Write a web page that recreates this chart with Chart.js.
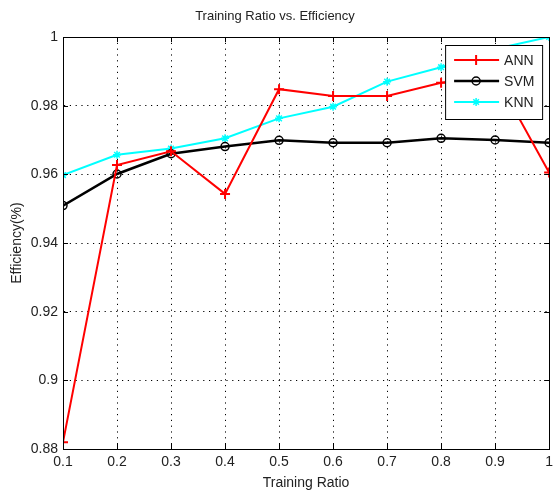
<!DOCTYPE html>
<html>
<head>
<meta charset="utf-8">
<script src="https://cdn.jsdelivr.net/npm/chart.js@4/dist/chart.umd.min.js"></script>
<style>
  html, body { margin: 0; padding: 0; background: #fff; }
  #wrap { width: 558px; height: 490px; }
</style>
</head>
<body>
<div id="wrap"><canvas id="effChart" width="558" height="490"></canvas></div>
<script>
// values
const trainingRatio = [0.1, 0.2, 0.3, 0.4, 0.5, 0.6, 0.7, 0.8, 0.9, 1.0];
const annEff = [0.882, 0.9627, 0.9667, 0.9543, 0.9848, 0.9828, 0.9828, 0.9867, 0.989, 0.9605];
const svmEff = [0.9509, 0.9601, 0.9660, 0.9681, 0.9699, 0.9692, 0.9692, 0.9705, 0.9700, 0.9692];
const knnEff = [0.9598, 0.9657, 0.9675, 0.9705, 0.9763, 0.9797, 0.9870, 0.9912, 0.9965, 1.0];

const xTickValues = [0.1, 0.2, 0.3, 0.4, 0.5, 0.6, 0.7, 0.8, 0.9, 1.0];
const xTickLabels = ['0.1', '0.2', '0.3', '0.4', '0.5', '0.6', '0.7', '0.8', '0.9', '1'];
const yTickValues = [0.88, 0.90, 0.92, 0.94, 0.96, 0.98, 1.0];
const yTickLabels = ['0.88', '0.9', '0.92', '0.94', '0.96', '0.98', '1'];

const FONT = "'Liberation Sans', Arial, Helvetica, sans-serif";

function toPoints(ys) {
    return trainingRatio.map((x, i) => ({ x: x, y: ys[i] }));
}

// axes box with inward ticks, matlab style
const axesBox = {
    id: 'axesBox',
    afterDatasetsDraw(chart) {
        const { ctx, chartArea: a, scales } = chart;
        ctx.save();
        ctx.strokeStyle = '#000';
        ctx.lineWidth = 1;
        ctx.setLineDash([]);
        ctx.strokeRect(Math.round(a.left) + 0.5, Math.round(a.top) + 0.5,
            Math.round(a.right - a.left), Math.round(a.bottom - a.top));
        ctx.beginPath();
        scales.x.ticks.forEach(t => {
            const px = Math.round(scales.x.getPixelForValue(t.value)) + 0.5;
            ctx.moveTo(px, a.bottom); ctx.lineTo(px, a.bottom - 5);
            ctx.moveTo(px, a.top); ctx.lineTo(px, a.top + 5);
        });
        scales.y.ticks.forEach(t => {
            const py = Math.round(scales.y.getPixelForValue(t.value)) + 0.5;
            ctx.moveTo(a.left, py); ctx.lineTo(a.left + 5, py);
            ctx.moveTo(a.right, py); ctx.lineTo(a.right - 5, py);
        });
        ctx.stroke();
        ctx.restore();
    }
};

// legend box inside the axes, top right
const boxLegend = {
    id: 'boxLegend',
    afterDraw(chart) {
        const { ctx, chartArea: a } = chart;
        const w = 97, rowH = 21;
        const x0 = a.right - 104, y0 = a.top + 8;
        const h = chart.data.datasets.length * rowH + 11;
        ctx.save();
        ctx.fillStyle = '#fff';
        ctx.fillRect(x0, y0, w, h);
        ctx.strokeStyle = '#000';
        ctx.lineWidth = 1;
        ctx.strokeRect(x0 + 0.5, y0 + 0.5, w, h);
        chart.data.datasets.forEach((ds, i) => {
            const cy = y0 + 15 + i * rowH;
            ctx.strokeStyle = ds.borderColor;
            ctx.lineWidth = ds.borderWidth;
            ctx.beginPath();
            ctx.moveTo(x0 + 9, cy);
            ctx.lineTo(x0 + 54, cy);
            ctx.stroke();
            ctx.lineWidth = ds.pointBorderWidth;
            ctx.fillStyle = ds.pointBackgroundColor;
            Chart.helpers.drawPoint(ctx, {
                pointStyle: ds.pointStyle,
                radius: ds.pointRadius,
                borderWidth: ds.pointBorderWidth,
                rotation: 0
            }, x0 + 31, cy);
            ctx.fillStyle = '#222';
            ctx.font = '14px ' + FONT;
            ctx.textBaseline = 'middle';
            ctx.textAlign = 'left';
            ctx.fillText(ds.label, x0 + 59, cy + 1);
        });
        ctx.restore();
    }
};

const bgWhite = {
    id: 'bgWhite',
    beforeDraw(chart) {
        const ctx = chart.ctx;
        ctx.save();
        ctx.fillStyle = '#fff';
        ctx.fillRect(0, 0, chart.width, chart.height);
        ctx.restore();
    }
};

const ctx = document.getElementById('effChart').getContext('2d');
new Chart(ctx, {
    type: 'scatter',
    data: {
        datasets: [{
            label: 'ANN',
            data: toPoints(annEff),
            showLine: true,
            borderColor: '#ff0000',
            backgroundColor: '#ff0000',
            borderWidth: 2,
            pointStyle: 'cross',
            pointRadius: 5,
            pointBorderWidth: 2,
            pointBorderColor: '#ff0000',
            pointBackgroundColor: 'rgba(0,0,0,0)'
        }, {
            label: 'SVM',
            data: toPoints(svmEff),
            showLine: true,
            borderColor: '#000000',
            backgroundColor: '#000000',
            borderWidth: 2.5,
            pointStyle: 'circle',
            pointRadius: 4,
            pointBorderWidth: 1.5,
            pointBorderColor: '#000000',
            pointBackgroundColor: 'rgba(0,0,0,0)'
        }, {
            label: 'KNN',
            data: toPoints(knnEff),
            showLine: true,
            borderColor: '#00ffff',
            backgroundColor: '#00ffff',
            borderWidth: 2,
            pointStyle: 'star',
            pointRadius: 4,
            pointBorderWidth: 1.5,
            pointBorderColor: '#00ffff',
            pointBackgroundColor: 'rgba(0,0,0,0)'
        }]
    },
    options: {
        responsive: false,
        animation: false,
        devicePixelRatio: 1,
        layout: { padding: { left: 0, right: 8, top: 0, bottom: 0 } },
        elements: { line: { tension: 0 } },
        scales: {
            x: {
                type: 'linear',
                min: 0.1,
                max: 1.0,
                afterBuildTicks: (s) => { s.ticks = xTickValues.map(v => ({ value: v })); },
                afterFit: (s) => { s.height = 41; },
                ticks: {
                    color: '#222',
                    font: { family: FONT, size: 14 },
                    padding: 5,
                    maxRotation: 0,
                    callback: (v, i) => xTickLabels[i]
                },
                grid: { color: '#000', drawTicks: false, lineWidth: 1 },
                border: { display: true, color: '#000', width: 1, dash: [1.2, 4.6] },
                title: {
                    display: true,
                    text: 'Training Ratio',
                    color: '#222',
                    font: { family: FONT, size: 14 },
                    padding: { top: 0, bottom: -2 }
                }
            },
            y: {
                type: 'linear',
                min: 0.88,
                max: 1.0,
                afterBuildTicks: (s) => { s.ticks = yTickValues.map(v => ({ value: v })); },
                afterFit: (s) => { s.width = 63; },
                ticks: {
                    color: '#222',
                    font: { family: FONT, size: 14 },
                    padding: 5,
                    callback: (v, i) => yTickLabels[i]
                },
                grid: { color: '#000', drawTicks: false, lineWidth: 1 },
                border: { display: true, color: '#000', width: 1, dash: [1.2, 4.6] },
                title: {
                    display: true,
                    text: 'Efficiency(%)',
                    color: '#222',
                    font: { family: FONT, size: 14 },
                    padding: { top: 9, bottom: 0 }
                }
            }
        },
        plugins: {
            legend: { display: false },
            tooltip: { enabled: false },
            title: {
                display: true,
                text: 'Training Ratio vs. Efficiency',
                color: '#222',
                font: { family: FONT, size: 13, weight: 'normal' },
                padding: { top: 9, bottom: 12.4 }
            }
        }
    },
    plugins: [bgWhite, axesBox, boxLegend]
});
</script>
</body>
</html>
